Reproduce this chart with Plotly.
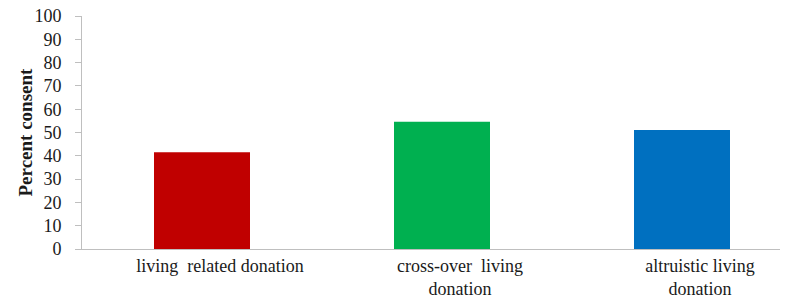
import plotly.graph_objects as go

categories = ["living  related donation", "cross-over  living<br>donation", "altruistic living<br>donation"]
values = [41.5, 54.6, 51.1]
colors = ["#C00000", "#00B050", "#0070C0"]
y_ticks = list(range(0, 101, 10))
y_title = "Percent consent"

SERIF = "Liberation Serif, Times New Roman, serif"

fig = go.Figure(go.Bar(
    x=[0, 1, 2], y=values, width=0.4,
    marker=dict(color=colors, line=dict(width=0)),
))

fig.update_layout(
    width=780, height=289,
    margin=dict(l=74, r=0, t=8, b=48, pad=0),
    plot_bgcolor="white", paper_bgcolor="white",
    showlegend=False,
    font=dict(family=SERIF, color="#1a1a1a"),
)
fig.update_xaxes(
    range=[-0.5, -0.5 + 706 / 240], automargin=False,
    tickvals=[0, 1, 2], ticktext=categories,
    tickfont=dict(size=18, family=SERIF, color="#1a1a1a"),
    showline=True, linecolor="#bfbfbf", linewidth=1,
    showgrid=False, ticks="", ticklabelshift=18, ticklabelstandoff=0,
    ticklabeloverflow="allow",
)
fig.update_yaxes(
    range=[0, 100], tickvals=y_ticks, automargin=False,
    tickfont=dict(size=18, family=SERIF, color="#1a1a1a"),
    showline=True, linecolor="#bfbfbf", linewidth=1,
    showgrid=False, ticks="outside", ticklen=6, tickcolor="#bfbfbf",
    ticklabelstandoff=10, ticklabeloverflow="allow",
)
fig.add_annotation(
    text=f"<b>{y_title}</b>", textangle=-90,
    xref="paper", yref="paper", x=-57 / 706, y=0.5,
    xanchor="center", yanchor="middle", showarrow=False,
    font=dict(size=19, family=SERIF, color="#1a1a1a"),
)
fig.write_html("out.html")
